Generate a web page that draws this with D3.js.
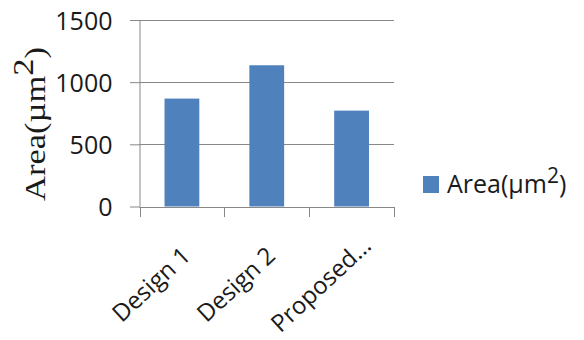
<!DOCTYPE html>
<html>
<head>
<meta charset="utf-8">
<script src="https://cdn.jsdelivr.net/npm/d3@7"></script>
<style>
  html, body { margin: 0; padding: 0; background: #fff; }
  svg { display: block; }
</style>
</head>
<body>
<svg id="chart" width="584" height="340"></svg>
<script>
const categories = ["Design 1", "Design 2", "Proposed\u2026"];
const areaValues = [868, 1136, 771];
const yTicks = [0, 500, 1000, 1500];
const seriesName = "Area(\u00B5m";
const seriesSup = "2";

(function () {
const svg = d3.select("#chart");
const pLeft = 139.5, pRight = 394, pTop = 20, pBottom = 206.5;
const font = "'Open Sans', sans-serif";
const gridColor = "#888888";
const barColor = "#4F81BD";

const y = d3.scaleLinear().domain([0, 1500]).range([pBottom, pTop]);
const x = d3.scaleBand().domain(categories).range([pLeft, pRight]).padding(0);
const barW = x.bandwidth() * 0.41;

// gridlines
svg.append("g").selectAll("line").data(yTicks).join("line")
  .attr("x1", pLeft).attr("x2", pRight)
  .attr("y1", d => Math.round(y(d)) + 0.5).attr("y2", d => Math.round(y(d)) + 0.5)
  .attr("stroke", gridColor).attr("stroke-width", 1);

// y axis
const yAxis = svg.append("g").attr("transform", `translate(${pLeft},0)`)
  .call(d3.axisLeft(y).tickValues(yTicks).tickSize(10).tickPadding(17).tickFormat(d3.format("d")));
yAxis.select(".domain").attr("stroke", gridColor).attr("d", `M0.5,${pTop}V${pBottom}`);
yAxis.selectAll(".tick line").attr("stroke", gridColor).attr("transform", "translate(0.5,0)");
yAxis.selectAll(".tick text").attr("font-family", font).attr("font-size", 25)
  .attr("fill", "#1a1a1a").attr("dy", "0.36em");

// bars
svg.append("g").selectAll("rect").data(categories).join("rect")
  .attr("x", (d) => x(d) + x.bandwidth() / 2 - barW / 2)
  .attr("width", barW)
  .attr("y", (d, i) => y(areaValues[i]))
  .attr("height", (d, i) => y(0) - y(areaValues[i]))
  .attr("fill", barColor);

// x axis line and boundary ticks
const xg = svg.append("g");
xg.append("line").attr("x1", pLeft).attr("x2", pRight)
  .attr("y1", Math.round(y(0)) + 0.5).attr("y2", Math.round(y(0)) + 0.5)
  .attr("stroke", gridColor);
const bounds = categories.map(c => x(c)).concat([x(categories[categories.length - 1]) + x.bandwidth()]);
xg.selectAll("line.tk").data(bounds).join("line").attr("class", "tk")
  .attr("x1", d => Math.round(d) + 0.5).attr("x2", d => Math.round(d) + 0.5)
  .attr("y1", Math.round(y(0))).attr("y2", Math.round(y(0)) + 10)
  .attr("stroke", gridColor);

// category labels
xg.selectAll("text").data(categories).join("text")
  .attr("transform", d => `translate(${x(d) + x.bandwidth() / 2 - 25},${y(0) + 84}) rotate(-43)`)
  .attr("text-anchor", "middle")
  .attr("font-family", font).attr("font-size", 24).attr("fill", "#1a1a1a")
  .text(d => d);

// y axis title
const yt = svg.append("text")
  .attr("transform", "translate(45,124) scale(1,1.15) rotate(-90)")
  .attr("text-anchor", "middle")
  .attr("font-family", "'Liberation Serif', 'Times New Roman', serif")
  .attr("font-size", 30).attr("fill", "#1a1a1a");
yt.append("tspan").text(seriesName);
yt.append("tspan").attr("dy", -12).text(seriesSup);
yt.append("tspan").attr("dy", 12).text(")");

// legend
const lg = svg.append("g");
lg.append("rect").attr("x", 423).attr("y", 176).attr("width", 16).attr("height", 17).attr("fill", barColor);
const lt = lg.append("text").attr("x", 447).attr("y", 193)
  .attr("font-family", font).attr("font-size", 25).attr("fill", "#1a1a1a");
lt.append("tspan").text(seriesName);
lt.append("tspan").attr("dy", -10).attr("font-size", 21).text(seriesSup);
lt.append("tspan").attr("dy", 10).text(")");
})();
</script>
</body>
</html>
